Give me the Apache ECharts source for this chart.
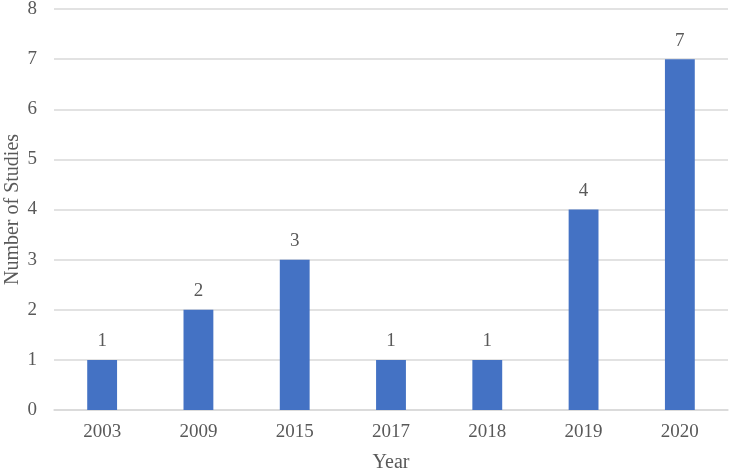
<!DOCTYPE html>
<html>
<head>
<meta charset="utf-8">
<script src="https://cdn.jsdelivr.net/npm/echarts@6/dist/echarts.min.js"></script>
<style>
  html, body { margin: 0; padding: 0; background: #fff; }
  #chart { width: 731px; height: 472px; }
</style>
</head>
<body>
<div id="chart"></div>
<script>
// data
var years = ['2003', '2009', '2015', '2017', '2018', '2019', '2020'];
var studies = [1, 2, 3, 1, 1, 4, 7];

var chart = echarts.init(document.getElementById('chart'));
var textColor = '#595959';
var font = '"Liberation Serif", "Times New Roman", serif';

var option = {
  animation: false,
  grid: { left: 54, right: 3, top: 9, bottom: 62, outerBoundsMode: 'none', containLabel: false },
  xAxis: {
    type: 'category',
    data: years,
    name: 'Year',
    nameLocation: 'middle',
    nameGap: 43,
    nameMoveOverlap: false,
    nameTextStyle: { color: textColor, fontFamily: font, fontSize: 20 },
    axisLine: { lineStyle: { color: '#d9d9d9', width: 1.5 } },
    axisTick: { show: false },
    axisLabel: { color: textColor, fontFamily: font, fontSize: 19, margin: 13 }
  },
  yAxis: {
    type: 'value',
    min: 0,
    max: 8,
    interval: 1,
    name: 'Number of Studies',
    nameLocation: 'middle',
    nameGap: 31,
    nameMoveOverlap: false,
    nameTextStyle: { color: textColor, fontFamily: font, fontSize: 20 },
    axisLine: { show: false },
    axisTick: { show: false },
    axisLabel: { color: textColor, fontFamily: font, fontSize: 19, margin: 17 },
    splitLine: { lineStyle: { color: '#d9d9d9', width: 1.5 } }
  },
  series: [{
    type: 'bar',
    data: studies,
    barWidth: '31%',
    itemStyle: { color: '#4472C4' },
    label: {
      show: true,
      position: 'top',
      distance: 9,
      color: textColor,
      fontFamily: font,
      fontSize: 19
    }
  }]
};
chart.setOption(option);
</script>
</body>
</html>
